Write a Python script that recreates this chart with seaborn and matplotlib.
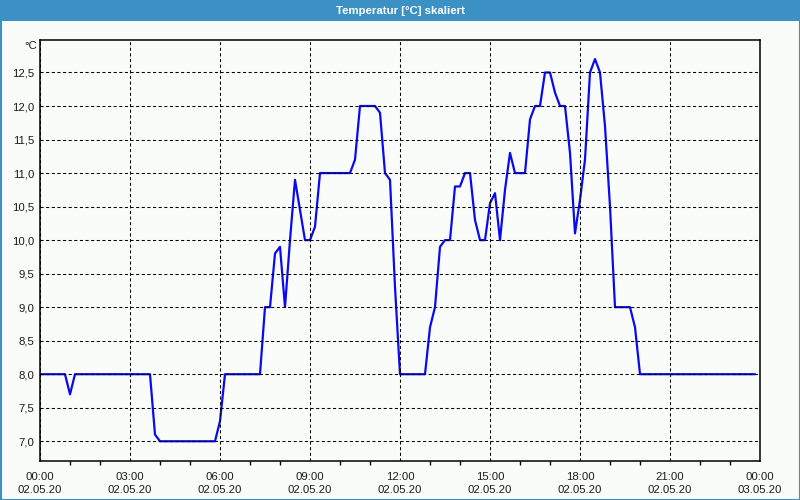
import matplotlib
matplotlib.use("Agg")
import matplotlib.pyplot as plt
import matplotlib.dates as mdates
from matplotlib.patches import Rectangle
import pandas as pd
import seaborn as sns

# ---- data ----
times = ["00:00", "00:50", "01:00", "01:10", "03:40", "03:50", "04:00", "05:50",
         "06:00", "06:10", "07:20", "07:30", "07:40", "07:50", "08:00", "08:10",
         "08:20", "08:30", "08:40", "08:50", "09:00", "09:10", "09:20", "10:20",
         "10:30", "10:40", "11:10", "11:20", "11:30", "11:40", "11:50", "12:00",
         "12:50", "13:00", "13:10", "13:20", "13:30", "13:40", "13:50", "14:00",
         "14:10", "14:20", "14:30", "14:40", "14:50", "15:00", "15:10", "15:20",
         "15:30", "15:40", "15:50", "16:10", "16:20", "16:30", "16:40", "16:50",
         "17:00", "17:10", "17:20", "17:30", "17:40", "17:50", "18:00", "18:10",
         "18:20", "18:30", "18:40", "18:50", "19:00", "19:10", "19:40", "19:50",
         "20:00", "23:50"]
temps = [8.0, 8.0, 7.7, 8.0, 8.0, 7.1, 7.0, 7.0,
         7.3, 8.0, 8.0, 9.0, 9.0, 9.8, 9.9, 9.0,
         10.0, 10.9, 10.45, 10.0, 10.0, 10.2, 11.0, 11.0,
         11.2, 12.0, 12.0, 11.9, 11.0, 10.9, 9.3, 8.0,
         8.0, 8.7, 9.0, 9.9, 10.0, 10.0, 10.8, 10.8,
         11.0, 11.0, 10.3, 10.0, 10.0, 10.55, 10.7, 10.0,
         10.75, 11.3, 11.0, 11.0, 11.8, 12.0, 12.0, 12.5,
         12.5, 12.2, 12.0, 12.0, 11.3, 10.1, 10.6, 11.2,
         12.5, 12.7, 12.5, 11.7, 10.5, 9.0, 9.0, 8.7,
         8.0, 8.0]
day = "2020-05-02"
x_ticks = ["2020-05-02 00:00", "2020-05-02 03:00", "2020-05-02 06:00",
           "2020-05-02 09:00", "2020-05-02 12:00", "2020-05-02 15:00",
           "2020-05-02 18:00", "2020-05-02 21:00", "2020-05-03 00:00"]
x_tick_labels = ["00:00\n02.05.20", "03:00\n02.05.20", "06:00\n02.05.20",
                 "09:00\n02.05.20", "12:00\n02.05.20", "15:00\n02.05.20",
                 "18:00\n02.05.20", "21:00\n02.05.20", "00:00\n03.05.20"]
y_ticks = [7.0, 7.5, 8.0, 8.5, 9.0, 9.5, 10.0, 10.5, 11.0, 11.5, 12.0, 12.5]
y_tick_labels = ["7,0", "7,5", "8,0", "8,5", "9,0", "9,5", "10,0", "10,5",
                 "11,0", "11,5", "12,0", "12,5"]
title = "Temperatur [°C] skaliert"
unit = "°C"

df = pd.DataFrame({"t": pd.to_datetime([f"{day} {t}" for t in times]),
                   "temp": temps})

# ---- style ----
sns.set_style("white")
plt.rcParams["font.family"] = ["Liberation Sans", "DejaVu Sans"]
bg = "#fafcfa"
bar_blue = "#3b91c4"
txt = "#1a1a1a"

fig = plt.figure(figsize=(8, 5), dpi=100, facecolor=bg)
ax = fig.add_axes([40 / 800, 1 - 460.7 / 500, 720 / 800, (460.7 - 40.3) / 500])
ax.set_facecolor(bg)

sns.lineplot(data=df, x="t", y="temp", ax=ax, color="#0a0af0", linewidth=1.6,
             zorder=2)

ax.set_xlim(pd.Timestamp(x_ticks[0]), pd.Timestamp(x_ticks[-1]))
ax.set_ylim(6.71, 12.98)

ax.set_xticks(pd.to_datetime(x_ticks))
ax.set_xticklabels(x_tick_labels, fontsize=8.2, linespacing=1.45)
ax.xaxis.set_minor_locator(mdates.HourLocator())
ax.set_yticks(y_ticks)
ax.set_yticklabels(y_tick_labels, fontsize=8.2)
ax.set_xlabel("")
ax.set_ylabel("")

ax.tick_params(axis="x", which="both", direction="out", length=3, width=1,
               color="black", pad=5, labelcolor=txt)
ax.tick_params(axis="x", which="minor", bottom=True)
ax.tick_params(axis="y", length=0, pad=4, labelcolor=txt)

ax.set_axisbelow(False)
ax.grid(True, which="major", color="black", linestyle=(0, (3.0, 2.4)),
        linewidth=0.75)
for s in ax.spines.values():
    s.set_visible(True)
    s.set_color("black")
    s.set_linewidth(1.1)

# unit label above y axis
fig.text(37 / 800, 1 - 46 / 500, unit, ha="right", va="center", fontsize=8.2,
         color=txt)

# title bar
fig.patches.append(Rectangle((0, 1 - 20.5 / 500), 1, 20.5 / 500,
                             transform=fig.transFigure, facecolor=bar_blue,
                             edgecolor="none", zorder=0))
fig.text(0.5, 1 - 10.5 / 500, title, ha="center", va="center", color="white",
         fontsize=8.2, fontweight="bold")
# outer border
fig.patches.append(Rectangle((0.5 / 800, 0.5 / 500), 799 / 800, 499 / 500,
                             transform=fig.transFigure, facecolor="none",
                             edgecolor=bar_blue, linewidth=1.5, zorder=5))

fig.savefig("out.png", dpi=100, facecolor=bg)
